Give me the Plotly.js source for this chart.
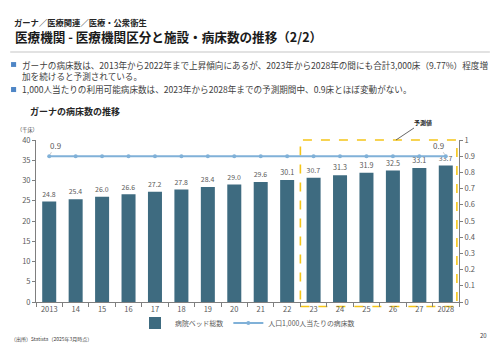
<!DOCTYPE html>
<html>
<head>
<meta charset="utf-8">
<script src="https://cdn.plot.ly/plotly-3.0.1.min.js"></script>
<style>
  html, body { margin: 0; padding: 0; background: #fff; }
  #chart { width: 500px; height: 353px; }
</style>
</head>
<body>
<div id="chart"></div>
<script>
// Ghana hospital beds, 2013-2028 (2023+ forecast)
const years = ['2013', '14', '15', '16', '17', '18', '19', '20', '21', '22', '23', '24', '25', '26', '27', '2028'];
const bedsTotal = [24.8, 25.4, 26.0, 26.6, 27.2, 27.8, 28.4, 29.0, 29.6, 30.1, 30.7, 31.3, 31.9, 32.5, 33.1, 33.7];
const bedsPer1000 = [0.9, 0.9, 0.9, 0.9, 0.9, 0.9, 0.9, 0.9, 0.9, 0.9, 0.9, 0.9, 0.9, 0.9, 0.9, 0.9];
const forecastFrom = '23';

const JP = '"Noto Sans CJK JP", "Noto Sans", sans-serif';
const GREY = '#595959';
const TEXT = '#404040';

const barTrace = {
    type: 'bar',
    name: '病院ベッド総数',
    x: years,
    y: bedsTotal,
    text: bedsTotal.map(v => v.toFixed(1)),
    textposition: 'outside',
    cliponaxis: false,
    textfont: { size: 8, color: GREY, family: JP },
    marker: { color: '#3e6b80' }
};

const lineTrace = {
    type: 'scatter',
    mode: 'lines+markers',
    name: '人口1,000人当たりの病床数',
    x: years,
    y: bedsPer1000,
    yaxis: 'y2',
    line: { color: '#80b1d8', width: 2 },
    marker: { color: '#80b1d8', size: 4 }
};

const last = years.length - 1;
const fcIdx = years.indexOf(forecastFrom);

// category positions are given as indices (numeric strings would be read as numbers)
function pointLabel(i, ax) {
    return {
        xref: 'x', yref: 'y2', x: i, y: bedsPer1000[i], ax: ax, ay: -11,
        text: bedsPer1000[i].toFixed(1),
        showarrow: true, arrowhead: 0, arrowwidth: 0.6, arrowcolor: '#a6a6a6', standoff: 2,
        font: { size: 8, color: GREY }
    };
}

function note(x, y, text, size, color) {
    return { xref: 'paper', yref: 'paper', x: x, y: y, xanchor: 'left', yanchor: 'middle',
             showarrow: false, text: text, font: { size: size, color: color || TEXT } };
}

const axisStyle = {
    ticks: 'outside', ticklen: 3, tickcolor: '#7f7f7f',
    showline: true, linecolor: '#7f7f7f', linewidth: 1,
    showgrid: false, zeroline: false,
    tickfont: { size: 7.5, color: GREY }
};

const layout = {
    width: 500,
    height: 353,
    margin: { t: 140, r: 41, b: 51, l: 36 },
    paper_bgcolor: '#fff',
    plot_bgcolor: '#fff',
    font: { family: JP, color: GREY, size: 7.5 },
    bargap: 0.47,
    showlegend: true,
    legend: {
        orientation: 'h', x: 0.5, xanchor: 'center', y: -0.13, yanchor: 'middle',
        bgcolor: 'rgba(0,0,0,0)',
        itemwidth: 30, font: { size: 6.9, color: GREY }, traceorder: 'normal'
    },
    xaxis: {
        ...axisStyle,
        type: 'category',
        range: [-0.5, years.length - 0.5],
        tickson: 'boundaries',
        ticklen: 4
    },
    yaxis: { ...axisStyle, range: [0, 40], dtick: 5 },
    yaxis2: { ...axisStyle, overlaying: 'y', side: 'right', range: [0, 1], dtick: 0.1 },
    shapes: [
        // header rule
        { type: 'line', xref: 'paper', yref: 'paper', x0: -0.061, x1: 1.073, y0: 1.543, y1: 1.543,
          line: { color: '#d9d9d9', width: 1.5 } },
        // forecast box
        { type: 'rect', layer: 'below', xref: 'x', yref: 'paper', x0: fcIdx - 0.5, x1: last + 0.42, y0: -0.028, y1: 1,
          line: { color: '#f5c518', width: 1.6, dash: 'dash' } },
        // bullets
        { type: 'rect', xref: 'paper', yref: 'paper', x0: -0.059, x1: -0.047, y0: 1.481, y1: 1.451,
          fillcolor: '#4f86c6', line: { width: 0 } },
        { type: 'rect', xref: 'paper', yref: 'paper', x0: -0.059, x1: -0.047, y0: 1.327, y1: 1.296,
          fillcolor: '#4f86c6', line: { width: 0 } }
    ],
    annotations: [
        note(-0.057, 1.728, '<b>ガーナ／医療関連／医療・公衆衛生</b>', 8.3, '#262626'),
        note(-0.054, 1.640, '<b>医療機関 - 医療機関区分と施設・病床数の推移（2/2）</b>', 12.6, '#1a1a1a'),
        note(-0.038, 1.466, 'ガーナの病床数は、2013年から2022年まで上昇傾向にあるが、2023年から2028年の間にも合計3,000床（9.77%）程度増', 8.6),
        note(-0.038, 1.398, '加を続けると予測されている。', 8.6),
        note(-0.038, 1.312, '1,000人当たりの利用可能病床数は、2023年から2028年までの予測期間中、0.9床とほぼ変動がない。', 8.6),
        note(-0.019, 1.179, '<b>ガーナの病床数の推移</b>', 9, '#262626'),
        note(-0.049, 1.062, '（千床）', 5.2),
        pointLabel(0, 6),
        pointLabel(last, -7),
        // forecast label
        { xref: 'paper', yref: 'paper', x: 0.851, y: 1, ax: 27, ay: -18, text: '<b>予測値</b>',
          showarrow: true, arrowhead: 0, arrowwidth: 0.8, arrowcolor: TEXT,
          font: { size: 6, color: '#262626' } },
        // footer
        note(-0.064, -0.228, '（出所）Statista（2025年3月時点）', 5),
        { xref: 'paper', yref: 'paper', x: 1.07, y: -0.247, showarrow: false,
          text: '20', font: { size: 6, color: TEXT } }
    ]
};

Plotly.newPlot('chart', [barTrace, lineTrace], layout, { displayModeBar: false, staticPlot: true });
</script>
</body>
</html>
